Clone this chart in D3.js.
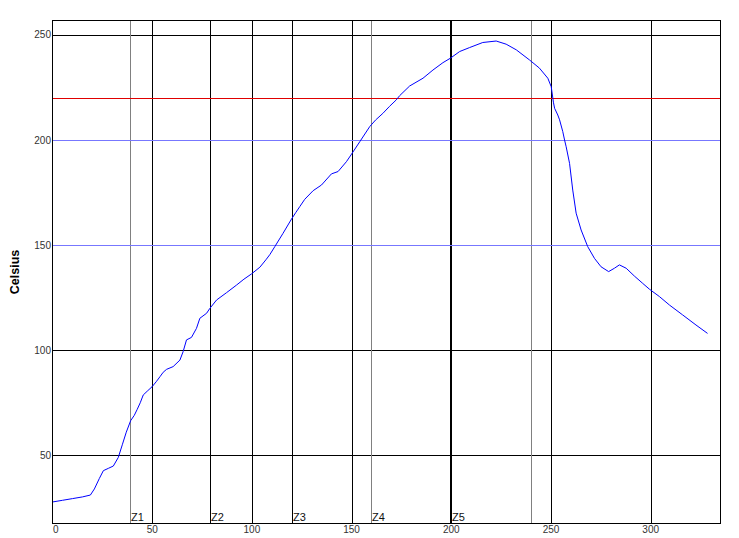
<!DOCTYPE html>
<html>
<head>
<meta charset="utf-8">
<script src="https://cdn.jsdelivr.net/npm/d3@7"></script>
<style>
  html, body { margin: 0; padding: 0; background: #fff; }
  svg { display: block; }
</style>
</head>
<body>
<svg id="chart" width="739" height="538"></svg>
<script>
// ---- data ----
const times = [0,5,10,15,19,21,23.5,25.5,28,30.5,33,35,37,39.2,41,42.5,44,45.5,47.5,50,52,53.9,55.5,57.2,60.5,63.9,65.5,67.2,69.7,72.2,73.9,77.3,78.9,82.3,87.3,92.3,96,99.8,104,107,109,111.5,115.6,119.6,122,124,126.5,130.7,134.9,139.9,143.2,147.4,149.7,154.1,159.1,162,165.7,169,172.4,174.1,179.1,185.8,190.8,195.8,199.5,204.2,209.2,215.8,222.5,227.5,232.6,239.2,244.2,248.4,250.1,251.2,251.8,253.4,254.3,255.9,256.8,257.6,259.3,260.9,262.6,265.1,268.4,271.8,275.1,278.9,281.8,284.3,287.7,291.8,296,299.4,304.4,309.4,316,322.7,328.5];
const temps = [27.8,28.6,29.4,30.2,31.1,34,39,42.7,43.8,44.9,49,55,61,66.5,69,71.9,75,78.7,80.5,82.7,85,87.4,89.5,90.9,92.2,95.3,99.3,104.9,106.1,110.4,115.2,117.6,119.9,123.9,127.4,131.0,133.8,136.3,139.5,143,145.5,149.3,155.6,162,165.5,168.3,171.8,175.9,178.6,183.9,185,189.7,192.9,199.2,206.4,209.5,212.7,216,219.1,221.1,225.7,229.4,233.3,236.8,238.9,242.1,244,246.4,247.1,245.6,242.9,238.1,234.2,229.4,225.4,218,215.1,211.9,209.6,204,200,196.8,188.9,176.2,165.2,157.2,149.3,143.7,139.7,137.4,139,140.6,139,135.3,131.8,129,125.5,121.5,116.8,112,108];
const xTicks = [0,50,100,150,200,250,300];
const yTicks = [50,100,150,200,250];
const blueLimits = [150,200];
const redLimits = [220];
const zoneNames = ["Z1","Z2","Z3","Z4","Z5",""];
const zonePositions = [39,79,120,159.5,200,240];
const zoneColors = ["#808080","#000","#000","#808080","#000","#808080"];
const yTitle = "Celsius";

// ---- layout ----
const L = 52.5, R = 720.5, T = 20.5, B = 523.5;
const x = d3.scaleLinear().domain([0,335]).range([L,R]);
const y = d3.scaleLinear().domain([17.8,257.1]).range([B-0.5,T-0.5]);
const px = v => Math.round(x(v)) + 0.5;
const py = v => Math.round(y(v)) + 0.5;

const svg = d3.select("#chart");
const font = "'Liberation Sans', Arial, Helvetica, sans-serif";

// gridlines
const g = svg.append("g");
g.selectAll(".hg").data(yTicks).enter().append("line")
  .attr("x1", L).attr("x2", R).attr("y1", d=>py(d)).attr("y2", d=>py(d))
  .attr("stroke", "#000").attr("stroke-width", 1);
g.selectAll(".vg").data(xTicks.filter(d=>d>0)).enter().append("line")
  .attr("y1", T).attr("y2", B).attr("x1", d=>px(d)).attr("x2", d=>px(d))
  .attr("stroke", "#000").attr("stroke-width", 1);

// zone lines
const zones = zonePositions.map((p,i)=>({p, name: zoneNames[i], c: zoneColors[i]}));
g.selectAll(".zl").data(zones).enter().append("line")
  .attr("y1", T).attr("y2", B)
  .attr("x1", d=> d.p===200 ? px(d.p)-0.5 : px(d.p))
  .attr("x2", d=> d.p===200 ? px(d.p)-0.5 : px(d.p))
  .attr("stroke", d=>d.c).attr("stroke-width", d => d.p===200 ? 2 : 1);

// limit lines
g.selectAll(".bl").data(blueLimits).enter().append("line")
  .attr("x1", L).attr("x2", R).attr("y1", d=>py(d)).attr("y2", d=>py(d))
  .attr("stroke", "#7777ff").attr("stroke-width", 1);
g.selectAll(".rl").data(redLimits).enter().append("line")
  .attr("x1", L).attr("x2", R).attr("y1", d=>py(d)).attr("y2", d=>py(d))
  .attr("stroke", "#e00000").attr("stroke-width", 1);

// zone labels
g.selectAll(".zt").data(zones.filter(d=>d.name)).enter().append("text")
  .attr("x", d=>px(d.p)+0.5).attr("y", 521)
  .attr("font-family", font).attr("font-size", 11).attr("fill", "#111")
  .text(d=>d.name);

// curve
const pts = times.map((t,i)=>[t, temps[i]]);
svg.append("path")
  .attr("d", d3.line().x(d=>x(d[0])).y(d=>y(d[1]))(pts))
  .attr("fill", "none").attr("stroke", "#0000ff").attr("stroke-width", 1);

// frame
svg.append("rect").attr("x", L).attr("y", T).attr("width", R-L).attr("height", B-T)
  .attr("fill", "none").attr("stroke", "#000").attr("stroke-width", 1);

// axes labels
svg.selectAll(".yl").data(yTicks).enter().append("text")
  .attr("x", 51).attr("y", d=>y(d)).attr("dy", "0.35em")
  .attr("text-anchor", "end").attr("font-family", font).attr("font-size", 10).attr("fill", "#333")
  .text(d=>d);
svg.selectAll(".xl").data(xTicks).enter().append("text")
  .attr("x", d=> d===0 ? L+0.5 : x(d)).attr("y", 533)
  .attr("text-anchor", d=> d===0 ? "start" : "middle")
  .attr("font-family", font).attr("font-size", 10).attr("fill", "#333")
  .text(d=>d);

// y title
svg.append("text")
  .attr("transform", `translate(19,${(T+B)/2}) rotate(-90)`)
  .attr("text-anchor", "middle").attr("font-family", font).attr("font-size", 12.5)
  .attr("font-weight", "bold").attr("fill", "#000")
  .text(yTitle);
</script>
</body>
</html>
